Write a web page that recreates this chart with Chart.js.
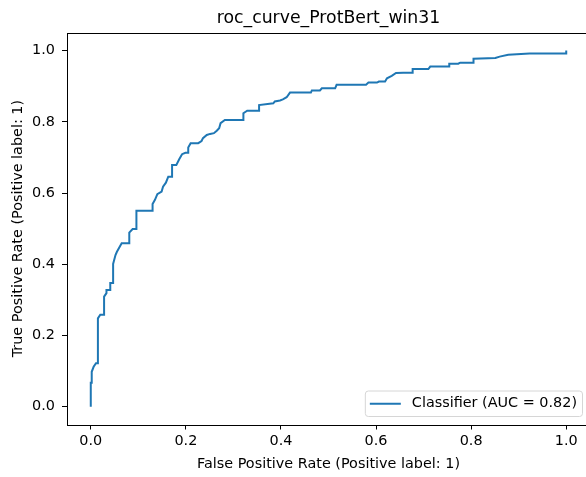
<!DOCTYPE html>
<html>
<head>
<meta charset="utf-8">
<script src="https://cdn.jsdelivr.net/npm/chart.js@4/dist/chart.umd.min.js"></script>
<style>
  html, body { margin: 0; padding: 0; background: #fff; overflow: hidden; }
  canvas { display: block; }
</style>
</head>
<body>
<canvas id="Chart" width="600" height="477"></canvas>
<script>
// ROC curve vertices (false positive rate / true positive rate)
const fpr = [0, 0, 0.002, 0.002, 0.006, 0.011, 0.015, 0.015, 0.020, 0.028, 0.028, 0.033, 0.033, 0.041, 0.041,
  0.047, 0.047, 0.052, 0.055, 0.065, 0.081, 0.081, 0.088, 0.096, 0.096, 0.130, 0.130, 0.135, 0.140, 0.149,
  0.152, 0.158, 0.163, 0.171, 0.171, 0.180, 0.186, 0.192, 0.199, 0.205, 0.205, 0.210, 0.226, 0.233, 0.236,
  0.244, 0.251, 0.259, 0.265, 0.270, 0.273, 0.282, 0.321, 0.321, 0.329, 0.354, 0.354, 0.384, 0.387, 0.398,
  0.404, 0.412, 0.419, 0.463, 0.465, 0.482, 0.486, 0.514, 0.517, 0.579, 0.584, 0.602, 0.606, 0.619, 0.623,
  0.633, 0.642, 0.657, 0.677, 0.677, 0.710, 0.714, 0.754, 0.754, 0.773, 0.777, 0.805, 0.805, 0.851, 0.860,
  0.878, 0.923, 1.0, 1.0];
const tpr = [0, 0.067, 0.067, 0.098, 0.112, 0.122, 0.122, 0.248, 0.258, 0.258, 0.309, 0.319, 0.328, 0.328, 0.347,
  0.347, 0.401, 0.426, 0.435, 0.459, 0.459, 0.489, 0.499, 0.499, 0.550, 0.550, 0.569, 0.581, 0.597, 0.604,
  0.618, 0.629, 0.646, 0.646, 0.679, 0.679, 0.695, 0.709, 0.713, 0.713, 0.728, 0.740, 0.740, 0.746, 0.754,
  0.763, 0.766, 0.768, 0.775, 0.782, 0.796, 0.805, 0.805, 0.824, 0.831, 0.831, 0.847, 0.852, 0.857, 0.860,
  0.863, 0.869, 0.882, 0.882, 0.888, 0.888, 0.894, 0.894, 0.904, 0.904, 0.910, 0.910, 0.913, 0.913, 0.922,
  0.929, 0.937, 0.938, 0.938, 0.948, 0.948, 0.955, 0.955, 0.963, 0.963, 0.966, 0.966, 0.977, 0.979, 0.983,
  0.988, 0.992, 0.992, 1.0];

const xTicks = [0, 0.2, 0.4, 0.6, 0.8, 1.0];
const yTicks = [0, 0.2, 0.4, 0.6, 0.8, 1.0];
const seriesLabel = 'Classifier (AUC = 0.82)';

const FONT = 'DejaVu Sans';
const FS = 14.4;
const BLUE = '#1f77b4';

// box around the axes + legend in the lower right corner
const framePlugin = {
  id: 'frame',
  afterDraw(chart) {
    const ctx = chart.ctx;
    const a = chart.chartArea;
    ctx.save();
    ctx.strokeStyle = '#000';
    ctx.lineWidth = 1;
    ctx.strokeRect(Math.round(a.left) + 0.5, Math.round(a.top) + 0.5,
      Math.round(a.right - a.left), Math.round(a.bottom - a.top));

    // legend
    ctx.font = FS + 'px "' + FONT + '"';
    const tw = ctx.measureText(seriesLabel).width;
    const h = 25.5;
    const right = a.right - 8;
    const bottom = a.bottom - 8.5;
    const left = right - (47 + tw + 5);
    const top = bottom - h;
    ctx.beginPath();
    ctx.roundRect(left + 0.5, top + 0.5, right - left, h, 3);
    ctx.fillStyle = 'rgba(255,255,255,0.8)';
    ctx.fill();
    ctx.strokeStyle = '#d6d6d6';
    ctx.stroke();
    const cy = top + h / 2 + 0.5;
    ctx.beginPath();
    ctx.moveTo(left + 5, cy);
    ctx.lineTo(left + 36, cy);
    ctx.strokeStyle = BLUE;
    ctx.lineWidth = 2;
    ctx.stroke();
    ctx.fillStyle = '#000';
    ctx.textBaseline = 'middle';
    ctx.textAlign = 'left';
    ctx.fillText(seriesLabel, left + 47, cy);
    ctx.restore();
  }
};

const ctx = document.getElementById('Chart').getContext('2d');
const chart = new Chart(ctx, {
  type: 'line',
  data: {
    datasets: [{
      label: seriesLabel,
      data: fpr.map((x, i) => ({x: x, y: tpr[i]})),
      borderColor: BLUE,
      borderWidth: 2,
      pointRadius: 0,
      tension: 0,
      fill: false
    }]
  },
  options: {
    responsive: false,
    devicePixelRatio: 1,
    animation: false,
    layout: {padding: {left: 0, right: 10, top: 0, bottom: 0}},
    plugins: {
      legend: {display: false},
      tooltip: {enabled: false},
      title: {
        display: true,
        text: 'roc_curve_ProtBert_win31',
        fullSize: false,
        color: '#000',
        font: {family: FONT, size: 17.3, weight: 'normal', lineHeight: 1.2},
        padding: {top: 8, bottom: 4}
      }
    },
    scales: {
      x: {
        type: 'linear',
        min: -0.05,
        max: 1.05,
        afterBuildTicks: s => { s.ticks = xTicks.map(v => ({value: v})); },
        afterFit: s => { s.height = 52.5; },
        ticks: {
          color: '#000',
          padding: 3,
          maxRotation: 0,
          font: {family: FONT, size: FS},
          callback: v => v.toFixed(1)
        },
        grid: {drawOnChartArea: false, drawTicks: true, tickLength: 5, tickColor: '#000'},
        border: {display: false},
        title: {
          display: true,
          text: 'False Positive Rate (Positive label: 1)',
          color: '#000',
          font: {family: FONT, size: FS},
          padding: {top: 0, bottom: 4}
        }
      },
      y: {
        type: 'linear',
        min: -0.05,
        max: 1.05,
        afterBuildTicks: s => { s.ticks = yTicks.map(v => ({value: v})); },
        afterFit: s => { s.width = 67; },
        ticks: {
          color: '#000',
          padding: 7,
          font: {family: FONT, size: FS},
          callback: v => v.toFixed(1)
        },
        grid: {drawOnChartArea: false, drawTicks: true, tickLength: 5, tickColor: '#000'},
        border: {display: false},
        title: {
          display: true,
          text: 'True Positive Rate (Positive label: 1)',
          color: '#000',
          font: {family: FONT, size: FS},
          padding: {top: 10, bottom: 0}
        }
      }
    }
  },
  plugins: [framePlugin]
});
</script>
</body>
</html>
